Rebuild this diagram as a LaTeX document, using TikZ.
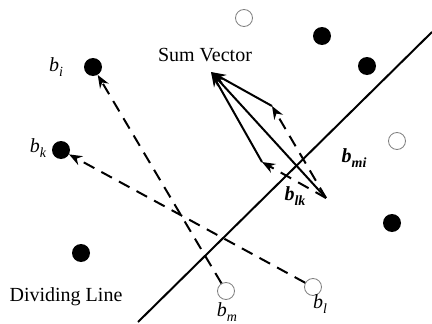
\documentclass[tikz,border=0pt]{standalone}
\usepackage{fontspec}
\setmainfont{Liberation Serif}
\usetikzlibrary{arrows.meta}
\newcommand\vlab[2]{\textit{#1}\raisebox{-0.22em}{\fontsize{14}{14}\selectfont\textit{#2}}}
\newcommand\vbold[2]{\textbf{\textit{#1}}\raisebox{-0.22em}{\fontsize{14}{14}\selectfont\textbf{\textit{#2}}}}
\begin{document}
\begin{tikzpicture}[x=1pt,y=-1pt,
  full/.style={circle,fill=black,inner sep=0pt,minimum size=18pt},
  hollow/.style={circle,draw=gray,line width=0.8pt,fill=white,inner sep=0pt,minimum size=17pt},
  txt/.style={font=\fontsize{20}{24}\selectfont,inner sep=0pt},
  dline/.style={line width=2pt,dash pattern=on 12pt off 8pt,-{Stealth[length=13pt,width=10pt]}},
  sline/.style={line width=2pt,-{Stealth[length=15pt,width=10pt]}},
  divline/.style={line width=2pt}
]
\useasboundingbox (0,0) rectangle (432,324);
% points
\node[hollow] (o1) at (244,18) {};
\node[full] (f1) at (322,36) {};
\node[full] (f2) at (367,66) {};
\node[hollow] (o2) at (397,141) {};
\node[full] (f3) at (392,223) {};
\node[full] (bi) at (93,67) {};
\node[full] (bk) at (61,150) {};
\node[full] (f4) at (81,253) {};
\node[hollow] (bm) at (226,291) {};
\node[hollow] (bl) at (313,287) {};
% dividing line
\coordinate (d1) at (138,322);
\coordinate (d2) at (432,32);
\draw[divline] (d1) -- (d2);
% dashed differences
\draw[dline] (bm) -- (bi);
\draw[dline] (bl) -- (bk);
% sum vector construction
\coordinate (O) at (326,198);
\coordinate (A) at (272,106);
\coordinate (B) at (262,162);
\coordinate (S) at (211,72);
\draw[dline] (O) -- (A);
\draw[dline] (O) -- (B);
\draw[sline] (A) -- (S);
\draw[sline] (B) -- (S);
\draw[sline] (O) -- (S);
% labels
\node[txt] (tsum) at (205,55) {Sum Vector};
\node[txt] (tdiv) at (66,297) {Dividing Line};
\node[txt] (tbi) at (56,67) {\vlab{b}{i}};
\node[txt] (tbk) at (38,148) {\vlab{b}{k}};
\node[txt] (tbm) at (227,312) {\vlab{b}{m}};
\node[txt] (tbl) at (320,304) {\vlab{b}{l}};
\node[txt] (tbmi) at (354,158) {\vbold{b}{mi}};
\node[txt] (tblk) at (295,196) {\vbold{b}{lk}};
\end{tikzpicture}
\end{document}
